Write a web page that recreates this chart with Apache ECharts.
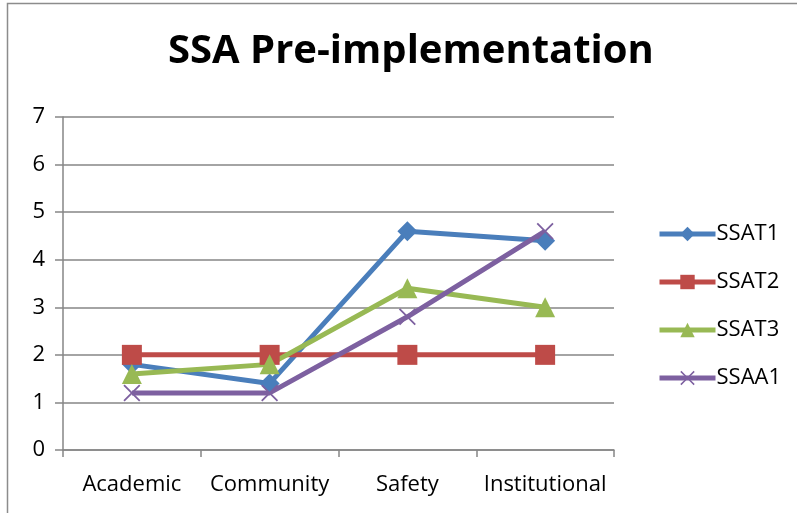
<!DOCTYPE html>
<html><head><meta charset="utf-8">
<script src="https://cdn.jsdelivr.net/npm/echarts@6/dist/echarts.min.js"></script>
<style>html,body{margin:0;padding:0;background:#fff}#c{width:797px;height:513px}</style>
</head><body><div id="c"></div>
<script>
const categories = ['Academic', 'Community', 'Safety', 'Institutional'];
const ssat1 = [1.8, 1.4, 4.6, 4.4];
const ssat2 = [2, 2, 2, 2];
const ssat3 = [1.6, 1.8, 3.4, 3.0];
const ssaa1 = [1.2, 1.2, 2.8, 4.6];
const yTicks = [0, 1, 2, 3, 4, 5, 6, 7];

const font = 'Open Sans, Liberation Sans, sans-serif';
const xPath = 'path://M0,1.5L1.5,0L10,8.5L18.5,0L20,1.5L11.5,10L20,18.5L18.5,20L10,11.5L1.5,20L0,18.5L8.5,10Z';
function mk(name, data, color, symbol, size) {
  return {name, type: 'line', data, symbol, symbolSize: size,
    lineStyle: {color, width: 5}, itemStyle: {color}, z: 2};
}
const chart = echarts.init(document.getElementById('c'), null, {renderer: 'canvas'});
chart.setOption({
  animation: false,
  backgroundColor: '#fff',
  graphic: [{type: 'rect', shape: {x: 7.5, y: 3.5, width: 800, height: 520}, style: {fill: 'none', stroke: '#8c8c8c', lineWidth: 1.5}, silent: true}],
  title: {text: 'SSA Pre-implementation', left: 163, top: 27,
    textStyle: {fontFamily: font, fontWeight: 'bold', fontSize: 40, color: '#000'}},
  grid: {left: 63, right: 183, top: 117, bottom: 63},
  legend: {orient: 'vertical', left: 652, top: 218, itemWidth: 56, itemHeight: 18, itemGap: 26,
    lineStyle: {width: 5},
    textStyle: {fontFamily: font, fontSize: 22, color: '#000', padding: [0, 0, 0, -4]},
    data: ['SSAT1', 'SSAT2', 'SSAT3', 'SSAA1']},
  xAxis: {type: 'category', data: categories, boundaryGap: true,
    axisLine: {lineStyle: {color: '#868686', width: 1.5}},
    axisTick: {show: true, length: 7, lineStyle: {color: '#868686', width: 1.5}},
    axisLabel: {fontFamily: font, fontSize: 22, color: '#000', margin: 24, interval: 0}},
  yAxis: {type: 'value', min: yTicks[0], max: yTicks[yTicks.length - 1], interval: 1,
    axisLine: {show: true, lineStyle: {color: '#868686', width: 1.5}},
    axisTick: {show: true, length: 8, lineStyle: {color: '#868686', width: 1.5}},
    splitLine: {lineStyle: {color: '#868686', width: 1.5}},
    axisLabel: {fontFamily: font, fontSize: 22, color: '#000', margin: 18}},
  series: [
    mk('SSAT1', ssat1, '#4A7EBB', 'diamond', 20),
    mk('SSAT2', ssat2, '#BE4B48', 'rect', 20),
    mk('SSAT3', ssat3, '#98B954', 'triangle', 20),
    mk('SSAA1', ssaa1, '#7D60A0', xPath, 17)
  ]
});
</script></body></html>
